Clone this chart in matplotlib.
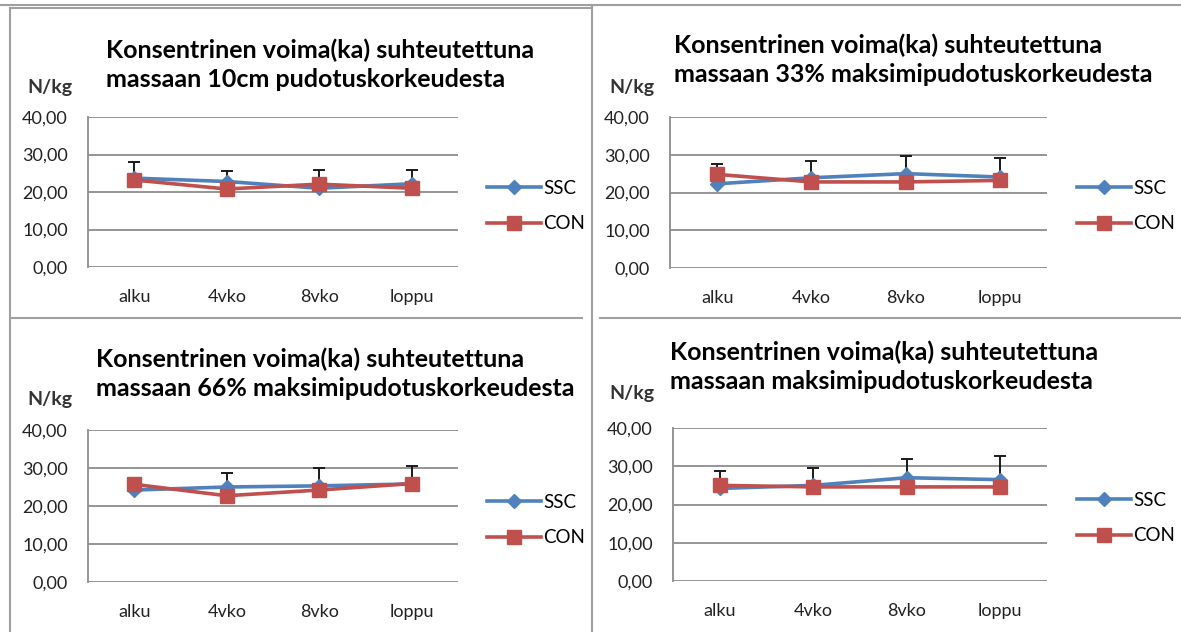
import numpy as np
import matplotlib.pyplot as plt

plt.rcParams['font.family'] = ['Lato', 'DejaVu Sans']

W, H = 1181, 632

# Mittauskerrat
kerrat = ['alku', '4vko', '8vko', 'loppu']

otsikot = [
    'Konsentrinen voima(ka) suhteutettuna\nmassaan 10cm pudotuskorkeudesta',
    'Konsentrinen voima(ka) suhteutettuna\nmassaan 33% maksimipudotuskorkeudesta',
    'Konsentrinen voima(ka) suhteutettuna\nmassaan 66% maksimipudotuskorkeudesta',
    'Konsentrinen voima(ka) suhteutettuna\nmassaan maksimipudotuskorkeudesta',
]

# Keskiarvot (N/kg)
ssc_10cm = [23.7, 22.8, 21.0, 22.2]
con_10cm = [23.2, 20.8, 22.1, 21.0]
ssc_33 = [22.3, 23.9, 25.0, 24.1]
con_33 = [24.8, 22.8, 22.8, 23.2]
ssc_66 = [24.2, 25.0, 25.3, 25.8]
con_66 = [25.7, 22.7, 24.2, 25.9]
ssc_max = [24.2, 25.0, 27.0, 26.5]
con_max = [25.0, 24.6, 24.6, 24.6]

# Keskihajonnat (vain ylöspäin)
sd_10cm = [4.2, 2.7, 4.9, 3.7]
sd_33 = [5.3, 4.4, 4.7, 5.0]
sd_66 = [2.0, 3.8, 4.6, 4.7]
sd_max = [4.5, 4.6, 4.9, 6.3]

ssc_sarjat = [ssc_10cm, ssc_33, ssc_66, ssc_max]
con_sarjat = [con_10cm, con_33, con_66, con_max]
sd_sarjat = [sd_10cm, sd_33, sd_66, sd_max]

# kuvaajien paikat pikseleinä: (vasen, oikea, ylä, ala)
laatikot = [(88, 458, 117, 267), (670, 1047, 117, 268),
            (88, 458, 430, 582), (673, 1047, 428, 581)]
otsikko_paikat = [(106, 65), (674, 60), (96, 374), (670, 367)]
nkg_paikat = [(27, 88), (609, 88), (27, 400), (609, 393)]
selite_paikat = [(487, 206), (1077, 206), (487, 520), (1077, 518)]

sininen = '#4F81BD'
punainen = '#C0504D'
harmaa = '#8C8C8C'

fig = plt.figure(figsize=(W / 100, H / 100), dpi=100)
fig.patch.set_facecolor('white')


def px_ax(x0, x1, y0, y1):
    return fig.add_axes([x0 / W, 1 - y1 / H, (x1 - x0) / W, (y1 - y0) / H])


x = np.arange(len(kerrat))

for i in range(4):
    x0, x1, y0, y1 = laatikot[i]
    ax = px_ax(x0, x1, y0, y1)
    ssc = np.array(ssc_sarjat[i])
    con = np.array(con_sarjat[i])
    sd = np.array(sd_sarjat[i])

    ax.errorbar(x, ssc, yerr=[np.zeros_like(sd), sd], fmt='none', ecolor='#1a1a1a',
                elinewidth=1.4, capsize=4.5, capthick=1.4, zorder=2)
    ax.plot(x, ssc, color=sininen, lw=2.6, marker='D', ms=7.5, mec=sininen,
            label='SSC', zorder=3)
    ax.plot(x, con, color=punainen, lw=2.6, marker='s', ms=9.5, mec=punainen,
            label='CON', zorder=4)

    ax.set_xlim(-0.5, 3.5)
    ax.set_ylim(0, 40)
    ax.set_yticks([0, 10, 20, 30, 40])
    ax.set_yticklabels(['0,00', '10,00', '20,00', '30,00', '40,00'])
    ax.set_xticks(x)
    ax.set_xticklabels(kerrat)
    ax.grid(axis='y', color=harmaa, lw=1.3)
    ax.set_axisbelow(True)
    for s in ['top', 'right', 'bottom']:
        ax.spines[s].set_visible(False)
    ax.spines['left'].set_color(harmaa)
    ax.spines['left'].set_linewidth(1.3)
    ax.tick_params(length=0, labelsize=13, colors='#222222')
    ax.tick_params(axis='y', pad=14.5)
    ax.tick_params(axis='x', pad=16)

    tx, ty = otsikko_paikat[i]
    fig.text(tx / W, 1 - ty / H, otsikot[i], fontsize=18, fontweight='bold',
             ha='left', va='center', linespacing=1.3, color='black')
    nx, ny = nkg_paikat[i]
    fig.text(nx / W, 1 - ny / H, 'N/kg', fontsize=14, fontweight='bold',
             ha='left', va='center', color='#333333')

    lx, ly = selite_paikat[i]
    ax.legend(loc='center left', bbox_to_anchor=(lx / W, 1 - ly / H),
              bbox_transform=fig.transFigure, frameon=False, fontsize=13.5,
              handlelength=2.9, handletextpad=0.1, labelspacing=1.0,
              borderpad=0, borderaxespad=0)

# taulukon reunaviivat
viivat = [((0, W), (5, 5)), ((10, 10), (8, H)), ((10, 592), (8, 8)),
          ((592, 592), (5, H)), ((10, 582), (318, 318)), ((600, W), (318, 318))]
for (xs, ys) in viivat:
    fig.add_artist(plt.Line2D([xs[0] / W, xs[1] / W], [1 - ys[0] / H, 1 - ys[1] / H],
                              transform=fig.transFigure, color='#A0A0A0', lw=1.5))

fig.savefig('out.png', dpi=100)
